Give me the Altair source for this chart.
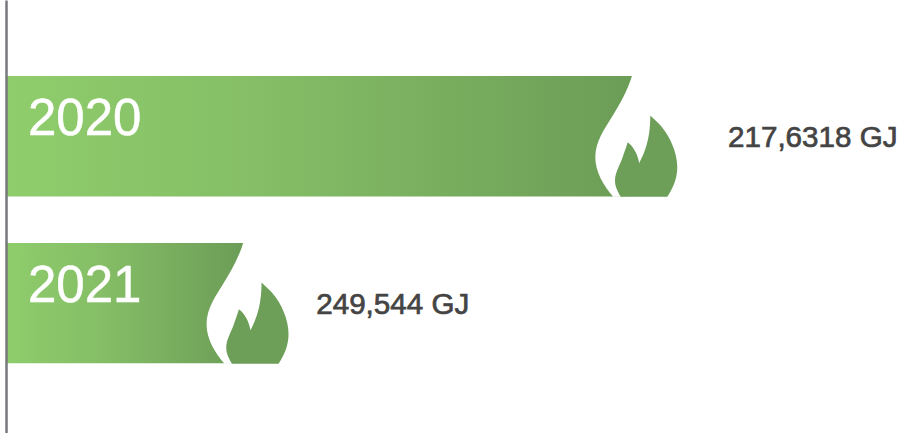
import altair as alt
import pandas as pd

years = ["2020", "2021"]
energy_gj = [2176318, 249544]
energy_labels = ["217,6318 GJ", "249,544 GJ"]

AXIS_GREY = "#77787b"
FLAME_GREEN = "#6d9f59"
LABEL_GREY = "#444444"
FONT = "Liberation Sans"

# Flame glyphs, in pixels around the end of a bar (1 unit = 1 px at size 4).
FLAME_CUTOUT = (
    "M 0,-60.5 C -5,-44 -13,-31 -20.3,-19 C -27,-8 -36.7,5 -36.7,21 "
    "C -36.7,36 -28,50 -18.7,60.5 L 4,60.5 L 4,-60.5 Z"
)
FLAME_CORE = (
    "M -11.3,60.5 C -15,54 -17,50 -17,44 C -17,36 -11,27 -8.7,19 "
    "C -7,14 -5.5,10 -4.3,6 C -0.5,9 5,15 7.3,27 "
    "C 12,17 18.3,5 18.3,-20.7 "
    "C 24,-15 28,-12 31.3,-7.3 C 37,0 45.3,15 45.3,31 "
    "C 45.3,42 41,52 35.3,60.5 Z"
)

data = pd.DataFrame({"year": years, "energy": energy_gj, "label": energy_labels})

x_scale = alt.Scale(type="pow", exponent=0.448, domain=[0, max(energy_gj)], range=[0, 626])
y_scale = alt.Scale(domain=years, paddingInner=0.278, paddingOuter=0.4365, align=0.522)

x = alt.X("energy:Q", scale=x_scale, axis=None)
y = alt.Y(
    "year:N",
    scale=y_scale,
    axis=alt.Axis(
        labels=False, ticks=False, title=None, grid=False,
        domainColor=AXIS_GREY, domainWidth=2.5, zindex=1,
    ),
)

bars = alt.Chart(data).mark_bar(
    color=alt.Gradient(
        gradient="linear",
        stops=[
            alt.GradientStop(color="#8fcd6c", offset=0),
            alt.GradientStop(color="#85be66", offset=0.4),
            alt.GradientStop(color="#6c9d57", offset=1),
        ],
        x1=0, x2=1, y1=0, y2=0,
    )
).encode(x=x, y=y)


def flame(path, colour):
    return alt.Chart(data).mark_point(
        shape=path, size=4, filled=True, color=colour, opacity=1, strokeWidth=0
    ).encode(x=x, y=y)


year_text = alt.Chart(data).mark_text(
    align="left", baseline="alphabetic", dx=22, dy=-1,
    font=FONT, fontSize=51, color="white", stroke="white", strokeWidth=0.5,
).encode(x=alt.value(0), y=y, text="year:N")


def value_text(index, offset):
    return alt.Chart(data.iloc[[index]]).mark_text(
        align="left", baseline="alphabetic", dx=offset, dy=10.7,
        font=FONT, fontSize=29.6, color=LABEL_GREY, stroke=LABEL_GREY, strokeWidth=0.7,
    ).encode(x=x, y=y, text="label:N")


chart = alt.layer(
    bars,
    flame(FLAME_CUTOUT, "white"),
    flame(FLAME_CORE, FLAME_GREEN),
    year_text,
    value_text(0, 96),
    value_text(1, 73),
).properties(
    width=894,
    height=433,
    padding={"left": 6, "right": 0, "top": 0, "bottom": 0},
    autosize=alt.AutoSizeParams(type="none"),
    background="white",
).configure_view(stroke=None)

chart.save("out.html", embed_options={"renderer": "svg", "actions": False})
